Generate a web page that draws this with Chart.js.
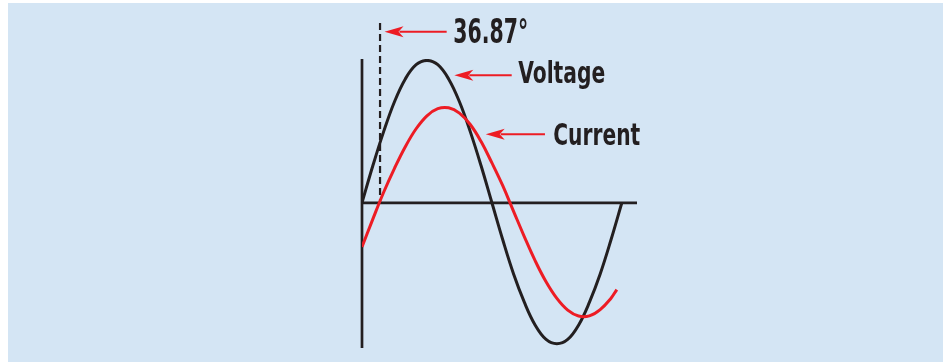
<!DOCTYPE html>
<html>
<head>
<meta charset="utf-8">
<script src="https://cdn.jsdelivr.net/npm/chart.js@4"></script>
<style>
  html, body { margin: 0; padding: 0; background: #ffffff; }
  #wrap { width: 943px; height: 362px; }
</style>
</head>
<body>
<div id="wrap"><canvas id="chart-phase" width="943" height="362"></canvas></div>
<script>
// ============================================================
// Data (x = electrical degrees, y = relative amplitude)
// ============================================================
const voltageDeg = [0, 15, 30, 45, 60, 75, 90, 105, 120, 135, 150, 165, 180, 195, 210, 225, 240, 255, 270, 285, 300, 315, 330, 345, 360];
const voltageVal = [0, 0.26, 0.5, 0.71, 0.87, 0.97, 1.0, 0.97, 0.87, 0.71, 0.5, 0.26, 0, -0.26, -0.5, -0.7, -0.86, -0.96, -0.99, -0.96, -0.86, -0.7, -0.5, -0.26, 0];

const currentDeg = [0, 15, 30, 45, 60, 75, 90, 105, 120, 135, 150, 165, 180, 195, 210, 225, 240, 255, 270, 285, 300, 315, 330, 345, 353];
const currentVal = [-0.31, -0.115, 0.074, 0.242, 0.394, 0.52, 0.611, 0.661, 0.667, 0.63, 0.55, 0.43, 0.28, 0.12, -0.06, -0.239, -0.408, -0.555, -0.672, -0.754, -0.795, -0.794, -0.75, -0.67, -0.61];

// phase marker (dashed line), as drawn
const markerDeg = [25, 25];
const markerVal = [1.263, 0];

const calloutText = ["36.87°", "Voltage", "Current"];

const INK = "#231f20";
const RED = "#ed1c24";
const PANEL = "#d4e5f4";
const labelFont = "'Liberation Sans Narrow', 'DejaVu Sans Condensed', 'Roboto', sans-serif";

const toPoints = (xs, ys) => xs.map((x, i) => ({ x, y: ys[i] }));

// ============================================================
// Plugins: panel background, axes through the origin, callouts
// ============================================================
const panelPlugin = {
  id: "panel",
  beforeDraw(chart) {
    const { ctx } = chart;
    ctx.save();
    ctx.fillStyle = PANEL;
    ctx.fillRect(8, 3, chart.width - 8, chart.height - 3);
    ctx.restore();
  }
};

const originAxesPlugin = {
  id: "originAxes",
  beforeDatasetsDraw(chart) {
    const { ctx, scales: { x, y } } = chart;
    const x0 = x.getPixelForValue(0);
    const y0 = y.getPixelForValue(0);
    ctx.save();
    ctx.strokeStyle = INK;
    ctx.lineWidth = 2.7;
    ctx.beginPath();
    ctx.moveTo(x0, y.top);
    ctx.lineTo(x0, y.bottom);
    ctx.moveTo(x0, y0);
    ctx.lineTo(x.right, y0);
    ctx.stroke();
    ctx.restore();
  }
};

const calloutPlugin = {
  id: "callouts",
  afterDraw(chart, args, opts) {
    const { ctx, scales: { x, y } } = chart;
    ctx.save();
    (opts.items || []).forEach((c, i) => {
      const ay = y.getPixelForValue(c.arrowY);
      const tail = x.getPixelForValue(c.tailX);
      const tip = x.getPixelForValue(c.tipX);
      const headLen = 19, headHalf = 5.5;
      // shaft
      ctx.strokeStyle = RED;
      ctx.lineWidth = 2;
      ctx.beginPath();
      ctx.moveTo(tail, ay);
      ctx.lineTo(tip + headLen - 4, ay);
      ctx.stroke();
      // head
      ctx.fillStyle = RED;
      ctx.beginPath();
      ctx.moveTo(tip, ay);
      ctx.lineTo(tip + headLen, ay - headHalf);
      ctx.lineTo(tip + headLen - 5, ay);
      ctx.lineTo(tip + headLen, ay + headHalf);
      ctx.closePath();
      ctx.fill();
      // label
      ctx.fillStyle = INK;
      ctx.font = `bold ${c.size}px ${labelFont}`;
      ctx.textBaseline = "alphabetic";
      ctx.textAlign = "left";
      ctx.fillText(calloutText[i], x.getPixelForValue(c.textX), y.getPixelForValue(c.baseY), c.maxWidth);
    });
    ctx.restore();
  }
};

// ============================================================
// Chart
// ============================================================
new Chart(document.getElementById("chart-phase"), {
  type: "line",
  data: {
    datasets: [
      {
        label: "Current",
        data: toPoints(currentDeg, currentVal),
        borderColor: RED,
        borderWidth: 3,
        pointRadius: 0,
        tension: 0.4,
        order: 0
      },
      {
        label: "Voltage",
        data: toPoints(voltageDeg, voltageVal),
        borderColor: INK,
        borderWidth: 3,
        pointRadius: 0,
        tension: 0.4,
        order: 1
      },
      {
        label: "Phase",
        data: toPoints(markerDeg, markerVal),
        borderColor: INK,
        borderWidth: 2.2,
        borderDash: [7, 4],
        pointRadius: 0,
        clip: false,
        order: 2
      }
    ]
  },
  options: {
    responsive: false,
    animation: false,
    devicePixelRatio: 1,
    layout: { padding: { left: 362, top: 59, right: 306, bottom: 14 } },
    scales: {
      x: { type: "linear", min: 0, max: 381, display: false },
      y: { type: "linear", min: -1.02, max: 1.01, display: false }
    },
    plugins: {
      legend: { display: false },
      tooltip: { enabled: false },
      callouts: {
        items: [
          { textX: 126.5, baseY: 1.122, size: 34, maxWidth: 75, arrowY: 1.201, tailX: 117.3, tipX: 31.2 },
          { textX: 216.5, baseY: 0.843, size: 30, maxWidth: 87, arrowY: 0.895, tailX: 207.4, tipX: 127.9 },
          { textX: 265, baseY: 0.406, size: 30, maxWidth: 87, arrowY: 0.481, tailX: 253.5, tipX: 171.4 }
        ]
      }
    }
  },
  plugins: [panelPlugin, originAxesPlugin, calloutPlugin]
});
</script>
</body>
</html>
